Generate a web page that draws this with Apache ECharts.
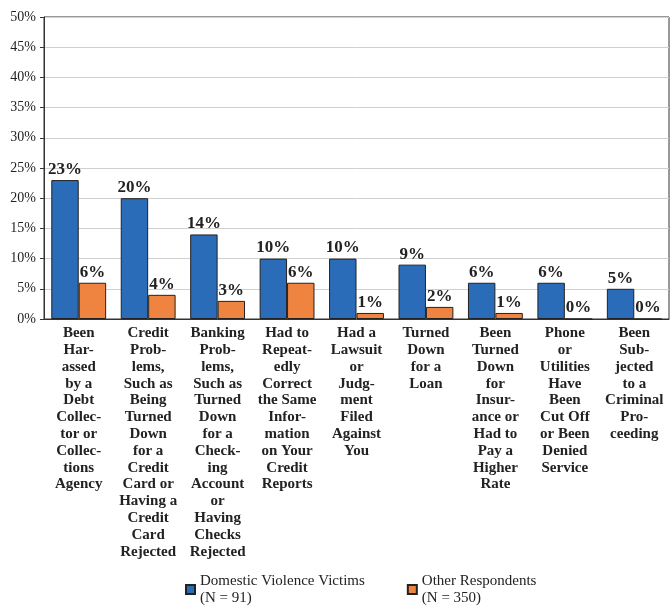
<!DOCTYPE html>
<html>
<head>
<meta charset="utf-8">
<script src="https://cdn.jsdelivr.net/npm/echarts@6/dist/echarts.min.js"></script>
<style>
  html, body { margin: 0; padding: 0; background: #fff; }
  #chart { width: 671px; height: 606px; }
</style>
</head>
<body>
<div id="chart"></div>
<script>
var categories = [
    'Been\nHar-\nassed\nby a\nDebt\nCollec-\ntor or\nCollec-\ntions\nAgency',
    'Credit\nProb-\nlems,\nSuch as\nBeing\nTurned\nDown\nfor a\nCredit\nCard or\nHaving a\nCredit\nCard\nRejected',
    'Banking\nProb-\nlems,\nSuch as\nTurned\nDown\nfor a\nCheck-\ning\nAccount\nor\nHaving\nChecks\nRejected',
    'Had to\nRepeat-\nedly\nCorrect\nthe Same\nInfor-\nmation\non Your\nCredit\nReports',
    'Had a\nLawsuit\nor\nJudg-\nment\nFiled\nAgainst\nYou',
    'Turned\nDown\nfor a\nLoan',
    'Been\nTurned\nDown\nfor\nInsur-\nance or\nHad to\nPay a\nHigher\nRate',
    'Phone\nor\nUtilities\nHave\nBeen\nCut Off\nor Been\nDenied\nService',
    'Been\nSub-\njected\nto a\nCriminal\nPro-\nceeding'
];
var victims = [23, 20, 14, 10, 10, 9, 6, 6, 5];
var others = [6, 4, 3, 6, 1, 2, 1, 0, 0];
var seriesNames = ['Domestic Violence Victims\n(N = 91)', 'Other Respondents\n(N = 350)'];
var colors = ['#2b6cb8', '#ef8440'];

var serif = '"Liberation Serif", "DejaVu Serif", serif';

function makeSeries(name, data, color) {
    return {
        name: name,
        type: 'bar',
        data: data,
        barGap: '0%',
        barCategoryGap: '21%',
        itemStyle: {
            color: color,
            borderColor: '#222',
            borderWidth: 1
        },
        label: {
            show: true,
            position: 'top',
            distance: 2,
            formatter: '{c}%',
            fontFamily: serif,
            fontWeight: 'bold',
            fontSize: 17,
            color: '#222'
        }
    };
}

var option = {
    animation: false,
    backgroundColor: '#fff',
    grid: {
        left: 44,
        right: 2,
        top: 17,
        bottom: 287,
        show: true,
        borderColor: '#333',
        borderWidth: 1
    },
    legend: {
        data: seriesNames,
        bottom: -14,
        left: 180,
        itemGap: 42,
        itemWidth: 9,
        itemHeight: 9,
        icon: 'rect',
        textStyle: {
            fontFamily: serif,
            fontSize: 15,
            color: '#222',
            lineHeight: 17,
            padding: [17, 0, 0, 0]
        }
    },
    xAxis: {
        type: 'category',
        data: categories,
        axisLine: { lineStyle: { color: '#333', width: 1 } },
        axisTick: { show: false },
        axisLabel: {
            interval: 0,
            margin: 6,
            fontFamily: serif,
            fontWeight: 'bold',
            fontSize: 15,
            lineHeight: 16.8,
            color: '#222'
        }
    },
    yAxis: {
        type: 'value',
        min: 0,
        max: 50,
        interval: 5,
        axisLine: { show: true, lineStyle: { color: '#333' } },
        axisTick: { show: true, length: 4, lineStyle: { color: '#333' } },
        splitLine: { lineStyle: { color: '#d0d0d0' } },
        axisLabel: {
            formatter: '{value}%',
            margin: 8,
            fontFamily: serif,
            fontSize: 14,
            color: '#222'
        }
    },
    series: [
        makeSeries(seriesNames[0], victims, colors[0]),
        makeSeries(seriesNames[1], others, colors[1])
    ]
};

var chart = echarts.init(document.getElementById('chart'));
chart.setOption(option);
</script>
</body>
</html>
